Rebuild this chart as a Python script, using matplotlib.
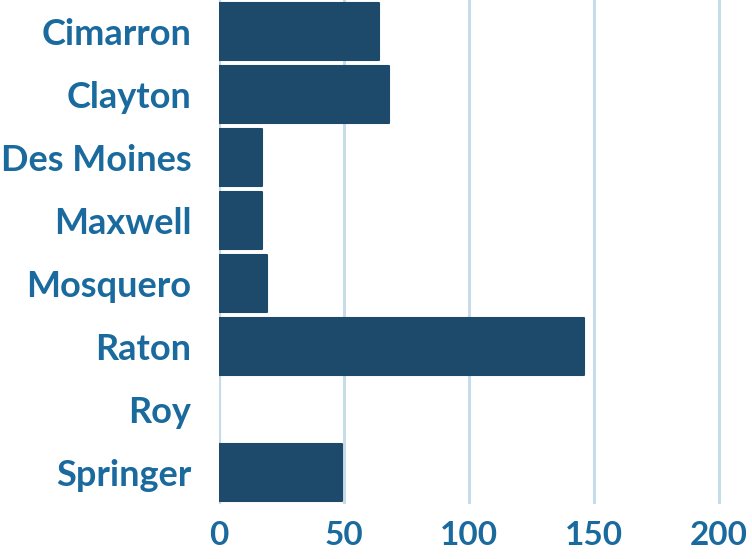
import matplotlib
matplotlib.use("Agg")
import matplotlib.pyplot as plt

towns = ["Cimarron", "Clayton", "Des Moines", "Maxwell", "Mosquero", "Raton", "Roy", "Springer"]
values = [64, 68, 17, 17, 19, 146, 0, 49]
xticks = [0, 50, 100, 150, 200]

BAR = "#1d4a6b"
TXT = "#1a6a9e"
GRID = "#c6dce8"

plt.rcParams["font.family"] = ["Lato", "DejaVu Sans"]

fig = plt.figure(figsize=(7.52, 5.59), dpi=100)
ax = fig.add_axes([219 / 752, 55 / 559, 212 * 2.5 / 752, 504 / 559])

pos = list(range(len(towns)))
# no outline on empty bars, otherwise Roy shows a sliver
widths = [1.5 if v > 0 else 0 for v in values]
ax.barh(pos, values, height=0.92, color=BAR, edgecolor=BAR, linewidth=widths,
        joinstyle="round", zorder=3)
ax.set_ylim(len(towns) - 0.5, -0.5)
ax.set_xlim(0, 212)

ax.set_xticks(xticks)
ax.set_yticks(pos)
ax.set_yticklabels(towns)
ax.tick_params(axis="y", length=0, pad=20, labelsize=26, labelcolor=TXT)
ax.tick_params(axis="x", length=0, pad=12, labelsize=24, labelcolor=TXT)
for lab in ax.get_xticklabels() + ax.get_yticklabels():
    lab.set_fontweight("bold")

for s in ax.spines.values():
    s.set_visible(False)
ax.grid(axis="x", color=GRID, linewidth=2.2, zorder=0)
ax.axvline(0, color="#6eaad0", linewidth=2.2, zorder=1)

fig.savefig("out.png", dpi=100)
